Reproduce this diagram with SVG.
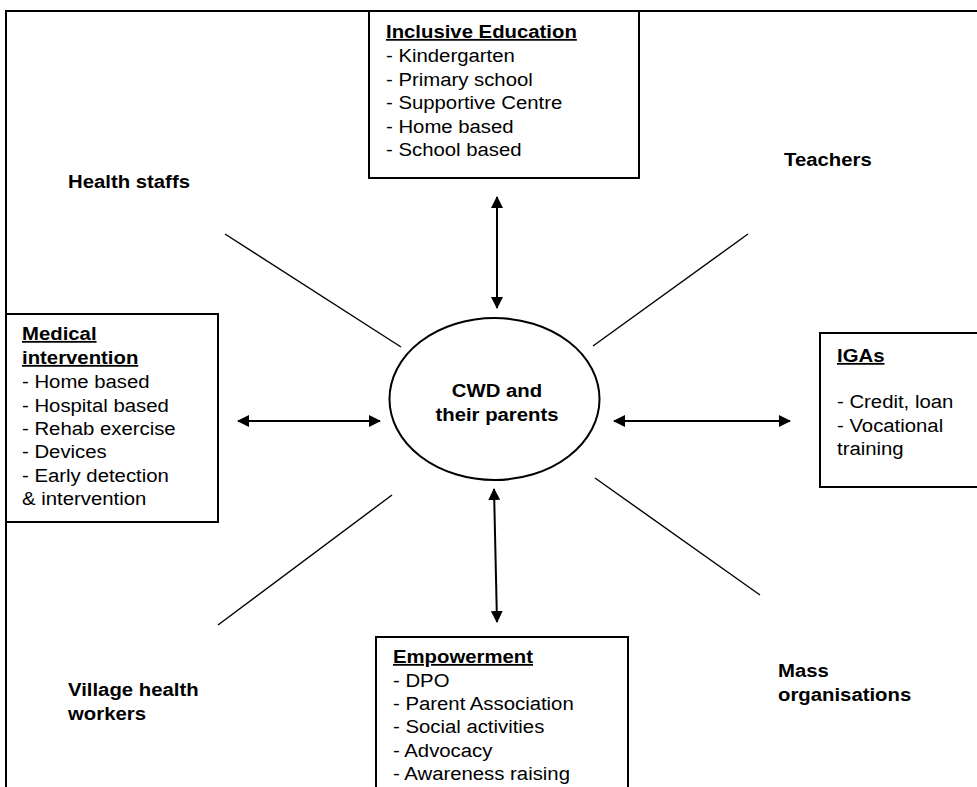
<svg xmlns="http://www.w3.org/2000/svg" width="977" height="787" viewBox="0 0 977 787">
<defs>
<marker id="ah" viewBox="0 0 12 12" refX="11" refY="6" markerWidth="12" markerHeight="12" markerUnits="userSpaceOnUse" orient="auto-start-reverse">
<path d="M0,0 L12,6 L0,12 z" fill="#000"/>
</marker>
<style>
.box{fill:#fff;stroke:#000;stroke-width:2}
.t{font-family:"Liberation Sans",Arial,sans-serif;font-size:18px;fill:#000}
.b{font-weight:bold}
.u{font-weight:bold;text-decoration:underline}
.ln{stroke:#000;stroke-width:1.4;fill:none}
.ar{stroke:#000;stroke-width:2;fill:none;marker-start:url(#ah);marker-end:url(#ah)}
</style>
</defs>
<rect width="977" height="787" fill="#fff"/>
<g id="frame">
<path d="M6,787 L6,11 L977,11" class="ln" style="stroke-width:2"/>
</g>
<g id="connectors">
<line class="ar" x1="497" y1="197" x2="497" y2="308"/>
<line class="ar" x1="494" y1="489" x2="497" y2="622"/>
<line class="ar" x1="238" y1="421" x2="380" y2="421"/>
<line class="ar" x1="614" y1="421" x2="790" y2="421"/>
<line class="ln" x1="225" y1="234" x2="401" y2="347"/>
<line class="ln" x1="593" y1="346" x2="748" y2="234"/>
<line class="ln" x1="218" y1="625" x2="392" y2="495"/>
<line class="ln" x1="595" y1="478" x2="760" y2="595"/>
</g>
<g id="inclusive-education">
<rect class="box" x="369" y="11" width="270" height="167"/>
<text class="t" transform="matrix(1.13,0,0,1,386,0)"><tspan class="u" x="0" y="38">Inclusive Education</tspan><tspan x="0" y="62">- Kindergarten</tspan><tspan x="0" y="86">- Primary school</tspan><tspan x="0" y="109">- Supportive Centre</tspan><tspan x="0" y="133">- Home based</tspan><tspan x="0" y="156">- School based</tspan></text>
</g>
<g id="medical-intervention">
<rect class="box" x="6" y="314" width="212" height="208"/>
<text class="t" transform="matrix(1.13,0,0,1,22,0)"><tspan class="u" x="0" y="340">Medical</tspan><tspan class="u" x="0" y="364">intervention</tspan><tspan x="0" y="388">- Home based</tspan><tspan x="0" y="412">- Hospital based</tspan><tspan x="0" y="435">- Rehab exercise</tspan><tspan x="0" y="458">- Devices</tspan><tspan x="0" y="482">- Early detection</tspan><tspan x="0" y="505">&amp; intervention</tspan></text>
</g>
<g id="igas">
<rect class="box" x="820" y="333" width="170" height="154"/>
<text class="t" transform="matrix(1.13,0,0,1,837,0)"><tspan class="u" x="0" y="362">IGAs</tspan><tspan x="0" y="408">- Credit, loan</tspan><tspan x="0" y="432">- Vocational</tspan><tspan x="0" y="455">training</tspan></text>
</g>
<g id="empowerment">
<rect class="box" x="376" y="637" width="252" height="170"/>
<text class="t" transform="matrix(1.13,0,0,1,393,0)"><tspan class="u" x="0" y="663">Empowerment</tspan><tspan x="0" y="687">- DPO</tspan><tspan x="0" y="710">- Parent Association</tspan><tspan x="0" y="733">- Social activities</tspan><tspan x="0" y="757">- Advocacy</tspan><tspan x="0" y="780">- Awareness raising</tspan></text>
</g>
<g id="cwd">
<ellipse cx="494.5" cy="399" rx="105" ry="81" fill="#fff" stroke="#000" stroke-width="2"/>
<text class="t b" text-anchor="middle" transform="matrix(1.13,0,0,1,497,0)"><tspan x="0" y="397">CWD and</tspan><tspan x="0" y="421">their parents</tspan></text>
</g>
<g id="health-staffs">
<text class="t b" transform="matrix(1.13,0,0,1,68,0)"><tspan x="0" y="188">Health staffs</tspan></text>
</g>
<g id="teachers">
<text class="t b" transform="matrix(1.13,0,0,1,784,0)"><tspan x="0" y="166">Teachers</tspan></text>
</g>
<g id="village-health-workers">
<text class="t b" transform="matrix(1.13,0,0,1,68,0)"><tspan x="0" y="696">Village health</tspan><tspan x="0" y="720">workers</tspan></text>
</g>
<g id="mass-organisations">
<text class="t b" transform="matrix(1.13,0,0,1,778,0)"><tspan x="0" y="677">Mass</tspan><tspan x="0" y="701">organisations</tspan></text>
</g>
</svg>
